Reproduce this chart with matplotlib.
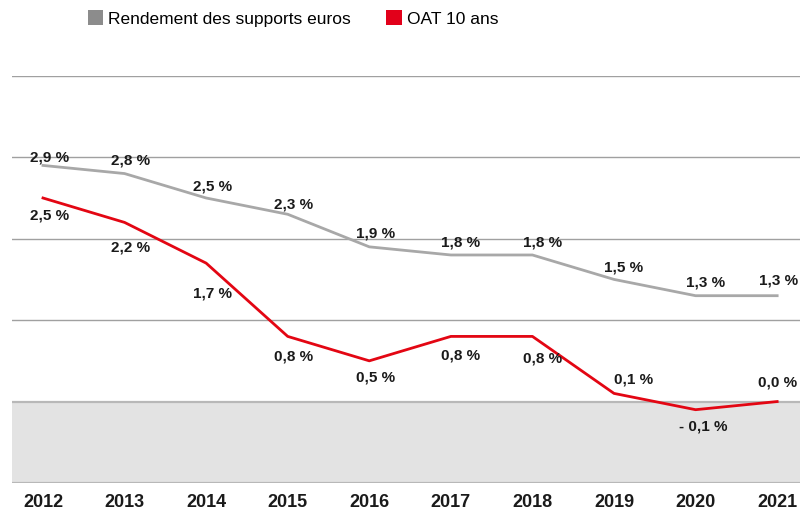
import matplotlib
matplotlib.use("Agg")
import matplotlib.pyplot as plt
from matplotlib.patches import Patch

plt.rcParams["font.family"] = ["Liberation Sans Narrow", "Liberation Sans", "DejaVu Sans"]

# données
years = [2012, 2013, 2014, 2015, 2016, 2017, 2018, 2019, 2020, 2021]
euros = [2.9, 2.8, 2.5, 2.3, 1.9, 1.8, 1.8, 1.5, 1.3, 1.3]
oat = [2.5, 2.2, 1.7, 0.8, 0.5, 0.8, 0.8, 0.1, -0.1, 0.0]
euros_labels = ["2,9 %", "2,8 %", "2,5 %", "2,3 %", "1,9 %", "1,8 %", "1,8 %", "1,5 %", "1,3 %", "1,3 %"]
oat_labels = ["2,5 %", "2,2 %", "1,7 %", "0,8 %", "0,5 %", "0,8 %", "0,8 %", "0,1 %", "- 0,1 %", "0,0 %"]

GRAY = "#a8a8a8"
RED = "#e30613"

fig = plt.figure(figsize=(8, 5.16), dpi=100)
ax = fig.add_axes([0.015, 0.064, 0.985, 0.789])

ax.set_xlim(2011.62, 2021.28)
ax.set_ylim(-1, 4)

# zone négative
ax.axhspan(-1, 0, color="#e3e3e3", zorder=0, lw=0)
for y in [1, 2, 3, 4]:
    ax.axhline(y, color="#a0a0a0", lw=1, zorder=1)
ax.axhline(0, color="#b8b8b8", lw=1.6, zorder=1)
ax.axhline(-1, color="#b8b8b8", lw=1.6, zorder=1)

ax.plot(years, euros, color=GRAY, lw=2, zorder=3)
ax.plot(years, oat, color=RED, lw=2, zorder=3)

# étiquettes
euros_dy = [8, 13, 11, 10, 13, 12, 12, 12, 13, 15]
euros_dx = [7, 6, 6, 6, 6, 10, 10, 10, 10, 1]
oat_dy = [-18, -25, -30, -20, -17, -19, -22, 14, -17, 19]
oat_dx = [7, 6, 6, 6, 6, 10, 10, 20, 8, 0]
for i in range(len(years)):
    ax.annotate(euros_labels[i], (years[i], euros[i]), xytext=(euros_dx[i], euros_dy[i]),
                textcoords="offset pixels", ha="center", va="center",
                fontsize=11, fontweight="bold", color="#1a1a1a", zorder=4)
    ax.annotate(oat_labels[i], (years[i], oat[i]), xytext=(oat_dx[i], oat_dy[i]),
                textcoords="offset pixels", ha="center", va="center",
                fontsize=11, fontweight="bold", color="#1a1a1a", zorder=4)

ax.set_xticks(years)
ax.set_xticklabels([str(y) for y in years], fontsize=13, fontweight="bold", color="#1a1a1a")
ax.set_yticks([])
ax.tick_params(axis="x", length=0, pad=8)
for s in ax.spines.values():
    s.set_visible(False)

handles = [Patch(facecolor="#8c8c8c", label="Rendement des supports euros"),
           Patch(facecolor="#e2001a", label="OAT 10 ans")]
fig.legend(handles=handles, loc="upper left", bbox_to_anchor=(0.09, 1.01), ncol=2,
           frameon=False, fontsize=12.5, handlelength=0.9, handleheight=0.9,
           handletextpad=0.3, columnspacing=2.0)

fig.savefig("out.png", dpi=100)
